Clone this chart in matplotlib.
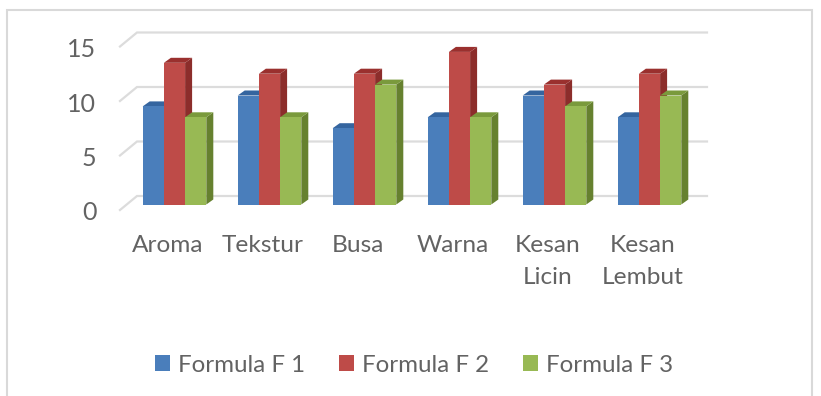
import matplotlib
matplotlib.use("Agg")
import matplotlib.pyplot as plt
from matplotlib.patches import Patch, Rectangle
from matplotlib.transforms import ScaledTranslation

categories = ["Aroma", "Tekstur", "Busa", "Warna", "Kesan\nLicin", "Kesan\nLembut"]
formula_f1 = [9, 10, 7, 8, 10, 8]
formula_f2 = [13, 12, 12, 14, 11, 12]
formula_f3 = [8, 8, 11, 8, 9, 10]
series_names = ["Formula F 1", "Formula F 2", "Formula F 3"]
y_ticks = [0, 5, 10, 15]

front_colors = ["#4A7EBB", "#BE4B48", "#98B954"]
top_colors = ["#35659F", "#9A302E", "#7A9A3C"]
side_colors = ["#2F5A8F", "#8C2D2B", "#66812F"]
TEXT = "#636363"
GRID = "#DCDCDC"

W, H = 821, 396
plt.rcParams["font.family"] = ["Lato", "DejaVu Sans"]
fig = plt.figure(figsize=(W / 100, H / 100), dpi=100)
fig.patch.set_facecolor("white")

# Plot plane: 95 px per category, about 10.9 px per unit
ax = fig.add_axes([120 / W, (H - 210) / H, 570 / W, 163.5 / H])
ax.set_xlim(-0.5, 5.5)
ax.set_ylim(0, 15)
ax.patch.set_visible(False)
for spine in ax.spines.values():
    spine.set_visible(False)

px_x = 1 / 95
px_y = 15 / 163.5

# Back wall and side wall grid lines
wall_dx, wall_dy = 17 * px_x, 14 * px_y
for t in y_ticks:
    ax.plot([-0.5, -0.5 + wall_dx, 5.5 + wall_dx], [t, t + wall_dy, t + wall_dy],
            color=GRID, lw=1.6, clip_on=False, zorder=1, solid_joinstyle="miter")

# Pseudo-3D columns: front face, then top and right side
bar_w = 21.2 * px_x
lift_x, lift_y = 7 * px_x, 5.5 * px_y
deep_x, deep_y = 7 * px_x, 5 * px_y
all_series = [formula_f1, formula_f2, formula_f3]
z = 2
for i in range(len(categories)):
    for s, values in enumerate(all_series):
        left = i + (s - 1.5) * bar_w + lift_x
        right = left + bar_w
        v = values[i]
        base = lift_y
        top = v + lift_y
        ax.fill([right, right + deep_x, right + deep_x, right],
                [base, base + deep_y, top + deep_y, top],
                color=side_colors[s], lw=0, clip_on=False, zorder=z)
        ax.fill([left, left + deep_x, right + deep_x, right],
                [top, top + deep_y, top + deep_y, top],
                color=top_colors[s], lw=0, clip_on=False, zorder=z)
        ax.bar(left, v, width=bar_w, bottom=base, align="edge",
               color=front_colors[s], lw=0, clip_on=False, zorder=z + 1)
        z += 2

ax.set_xticks(range(len(categories)))
ax.set_xticklabels(categories, fontsize=17.6, color=TEXT, linespacing=1.65)
ax.set_yticks(y_ticks)
ax.set_yticklabels([str(t) for t in y_ticks], fontsize=18, color=TEXT)
ax.tick_params(axis="x", length=0, pad=18)
ax.tick_params(axis="y", length=0, pad=17)
nudge = ScaledTranslation(0, -1 / 100, fig.dpi_scale_trans)
for label in ax.get_yticklabels():
    label.set_transform(label.get_transform() + nudge)

handles = [Patch(color=c, lw=0) for c in front_colors]
fig.legend(handles, series_names, loc="center", bbox_to_anchor=(414 / W, (H - 365) / H),
           ncol=3, frameon=False, labelcolor=TEXT, prop={"size": 17.4},
           handlelength=0.62, handleheight=0.62, handletextpad=0.34, columnspacing=1.4)

# Chart frame, open at the bottom edge of the canvas
fig.add_artist(Rectangle((6.5 / W, -0.05), (811.5 - 6.5) / W, 1.05 - 9.5 / H,
                         transform=fig.transFigure, fill=False, ec="#D9D9D9", lw=1.5))

fig.savefig("out.png", dpi=100)
